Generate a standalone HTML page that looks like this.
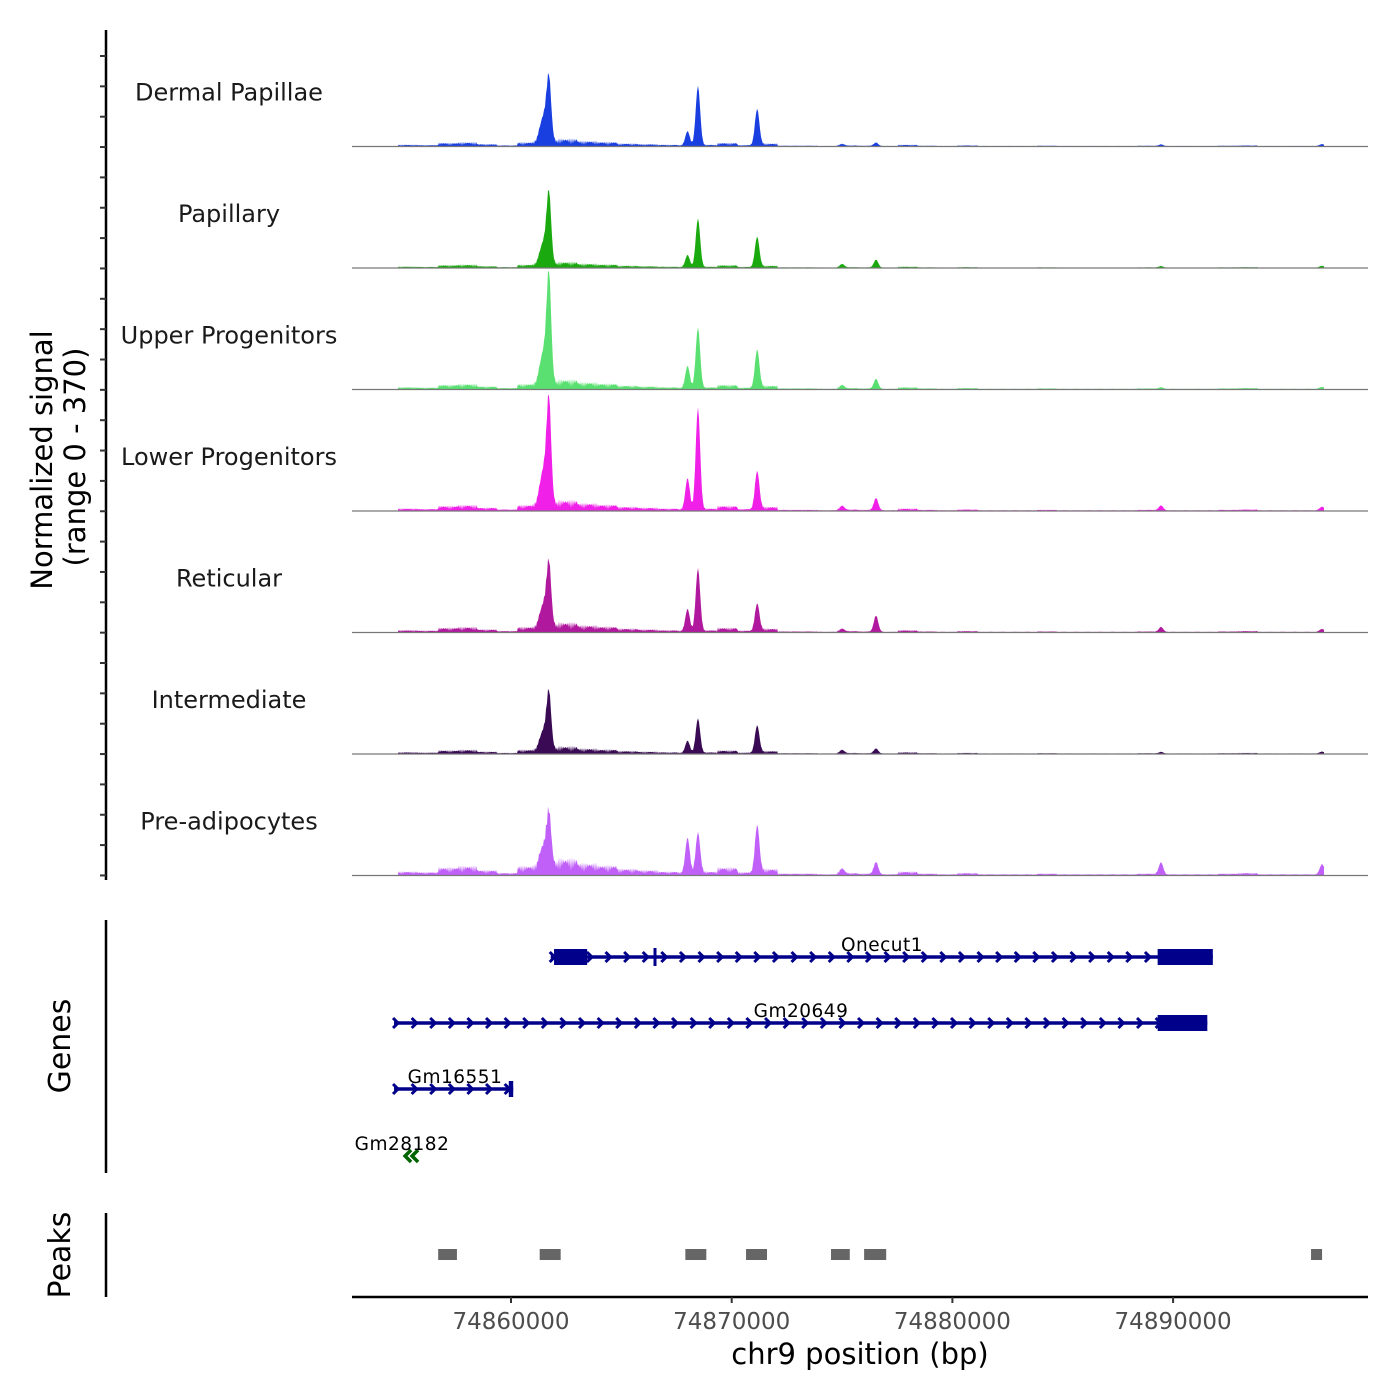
<!DOCTYPE html>
<html><head><meta charset="utf-8"><style>
html,body{margin:0;padding:0;background:#fff;}
svg{display:block;font-family:"DejaVu Sans","Liberation Sans",sans-serif;}
</style></head><body>
<svg id="chart" width="1400" height="1400" viewBox="0 0 1400 1400" xmlns="http://www.w3.org/2000/svg"></svg>
<script>
// ---- data ----
const trackNames = ["Dermal Papillae","Papillary","Upper Progenitors","Lower Progenitors","Reticular","Intermediate","Pre-adipocytes"];
const trackColors = ["#1a3fe0","#1aaa10","#5ae070","#f020e8","#b0189e","#3a0a55","#c060f8"];
const peakPositions = [74861500,74861720,74868000,74868470,74871150,74875000,74876540,74889450,74896750];
const heightsDermal = [80,170,43,180,110,5,10,5,5];
const heightsPapillary = [70,195,37,147,92,10,24,5,5];
const heightsUpper = [100,300,67,183,116,10,30,5,5];
const heightsLower = [110,285,95,309,116,12,37,15,10];
const heightsReticular = [70,172,67,190,83,8,49,15,8];
const heightsIntermediate = [60,155,37,104,83,10,15,5,5];
const heightsPreadip = [60,143,107,122,144,15,37,37,30];
const background = [6,5,12,14,8,4,14,20,25,18,15,10,8,6,5,6,12,5,10,3,3,2,4,3,2,6,3,2,4,2,2,2,3,2,2,2,2,3,2,2,2,3,4,2,2,2,3];
const bgScale = [1,0.8,1.3,1.4,1.3,1,2.2];
const xTicks = [74860000,74870000,74880000,74890000];
const yMax = 370;
const geneNames = ["Onecut1","Gm20649","Gm16551","Gm28182"];
const geneStarts = [74861800,74854700,74854700,74855200];
const geneEnds = [74891800,74891550,74860100,74855700];
const exonStarts = [[74861950,74889300],[74889300],[74859900],[]];
const exonEnds = [[74863450,74891800],[74891550],[74860100],[]];
const peakStarts = [74856700,74861300,74867900,74870650,74874500,74876000,74896250];
const peakEnds = [74857550,74862250,74868850,74871600,74875350,74877000,74896750];

// ---- scales ----
const NS="http://www.w3.org/2000/svg";
const svg=document.getElementById('chart');
const X0=352,X1=1368;
function xs(bp){return 511+(bp-74860000)*0.02207;}
const trackTop=25, trackH=121.5;
function el(tag,attrs,parent){const e=document.createElementNS(NS,tag);for(const k in attrs)e.setAttribute(k,attrs[k]);(parent||svg).appendChild(e);return e;}
const allHeights=[heightsDermal,heightsPapillary,heightsUpper,heightsLower,heightsReticular,heightsIntermediate,heightsPreadip];

// y axis
let a=el('line',{x1:106,y1:30,x2:106,y2:880,stroke:'#000','stroke-width':2.5});


for(let i=0;i<28;i++){const y=56+i*30.35;const t=el('line',{x1:100,y1:y,x2:106,y2:y,stroke:'#333','stroke-width':2});

}
let yt=el('text',{x:0,y:0,'font-size':29,'text-anchor':'middle',transform:'translate(52,460) rotate(-90)',fill:'#000'});
yt.textContent='Normalized signal';


let yt2=el('text',{x:0,y:0,'font-size':29,'text-anchor':'middle',transform:'translate(85,457) rotate(-90)',fill:'#000'});
yt2.textContent='(range 0 - 370)';



// tracks
trackNames.forEach((name,ti)=>{
  const base=trackTop+(ti+1)*trackH;
  const sc=trackH/yMax;
  const hs=allHeights[ti];
  let d='M'+X0+','+base+' L398,'+base;
  for(let px=398;px<=1324;px++){
    let v=0;
    peakPositions.forEach((p,k)=>{const dx=px-xs(p);const sig=(k===0)?4:2.2;v+=hs[k]*Math.exp(-dx*dx/(2*sig*sig));});
    const bin=Math.min(background.length-1,Math.floor((px-398)/20));
    v+=background[bin]*bgScale[ti]*(0.25+0.75*Math.abs(Math.sin(px*1.7)));
    d+=' L'+px+','+(base-v*sc).toFixed(1);
  }
  d+=' L1324,'+base+' Z';
  const g=el('g',{});
  
  
  const p=el('path',{d:d,fill:trackColors[ti]},g);
  
  
  const bl=el('line',{x1:X0,y1:base,x2:X1,y2:base,stroke:'#777','stroke-width':1.2},g);
  
  
  const lb=el('text',{x:229,y:base-46,'font-size':24,'text-anchor':'middle',fill:'#1a1a1a'},g);
  lb.textContent=name;
  
  
});

// genes panel
let ga=el('line',{x1:106,y1:920,x2:106,y2:1173,stroke:'#000','stroke-width':2.5});


let gt=el('text',{x:0,y:0,'font-size':30,'text-anchor':'middle',transform:'translate(70,1046) rotate(-90)'});
gt.textContent='Genes';


const geneY=[957,1023,1089,1156];
const labelX=[882,801,455,402];
geneNames.forEach((gname,gi)=>{
  const y=geneY[gi];
  const g=el('g',{});
  
  
  const col=gi===3?'#006400':'#00008b';
  const x1=xs(geneStarts[gi]),x2=xs(geneEnds[gi]);
  if(gi<3){
    el('line',{x1:x1,y1:y,x2:x2,y2:y,stroke:col,'stroke-width':3.5},g);
    for(let x=x1+2;x<x2-4;x+=18.6){el('path',{d:`M${x-3},${y-5} L${x+2},${y} L${x-3},${y+5}`,stroke:col,'stroke-width':3,fill:'none'},g);}
    exonStarts[gi].forEach((s,k)=>{const ex=el('rect',{x:xs(s),y:y-8,width:xs(exonEnds[gi][k])-xs(s),height:16,fill:col},g);
      
      });
    if(gi===0){el('line',{x1:655,y1:y-9,x2:655,y2:y+9,stroke:col,'stroke-width':3},g);}
  } else {
    el('path',{d:`M${x1+6},${y-6} L${x1},${y} L${x1+6},${y+6} M${x1+13},${y-6} L${x1+7},${y} L${x1+13},${y+6}`,stroke:col,'stroke-width':3.5,fill:'none'},g);
  }
  const t=el('text',{x:labelX[gi],y:y-6,'font-size':18.5,'text-anchor':'middle',fill:'#000','letter-spacing':'0.5'},g);
  t.textContent=gname;
  
  
});

// peaks panel
let pa=el('line',{x1:106,y1:1213,x2:106,y2:1297,stroke:'#000','stroke-width':2.5});


let pt=el('text',{x:0,y:0,'font-size':30,'text-anchor':'middle',transform:'translate(70,1255) rotate(-90)'});
pt.textContent='Peaks';


peakStarts.forEach((s,i)=>{
  const r=el('rect',{x:xs(s),y:1249,width:xs(peakEnds[i])-xs(s),height:11,fill:'#666'});
  
  
});

// x axis
let xa=el('line',{x1:X0,y1:1297,x2:X1,y2:1297,stroke:'#000','stroke-width':2.5});


xTicks.forEach(v=>{
  const x=xs(v);
  const t=el('line',{x1:x,y1:1297,x2:x,y2:1303,stroke:'#333','stroke-width':2});
  
  
  const l=el('text',{x:x,y:1329,'font-size':23,'text-anchor':'middle',fill:'#4d4d4d'});
  l.textContent=String(v);
  
  
});
let xt=el('text',{x:860,y:1364,'font-size':29,'text-anchor':'middle',fill:'#000'});
xt.textContent='chr9 position (bp)';


</script>
</body></html>
